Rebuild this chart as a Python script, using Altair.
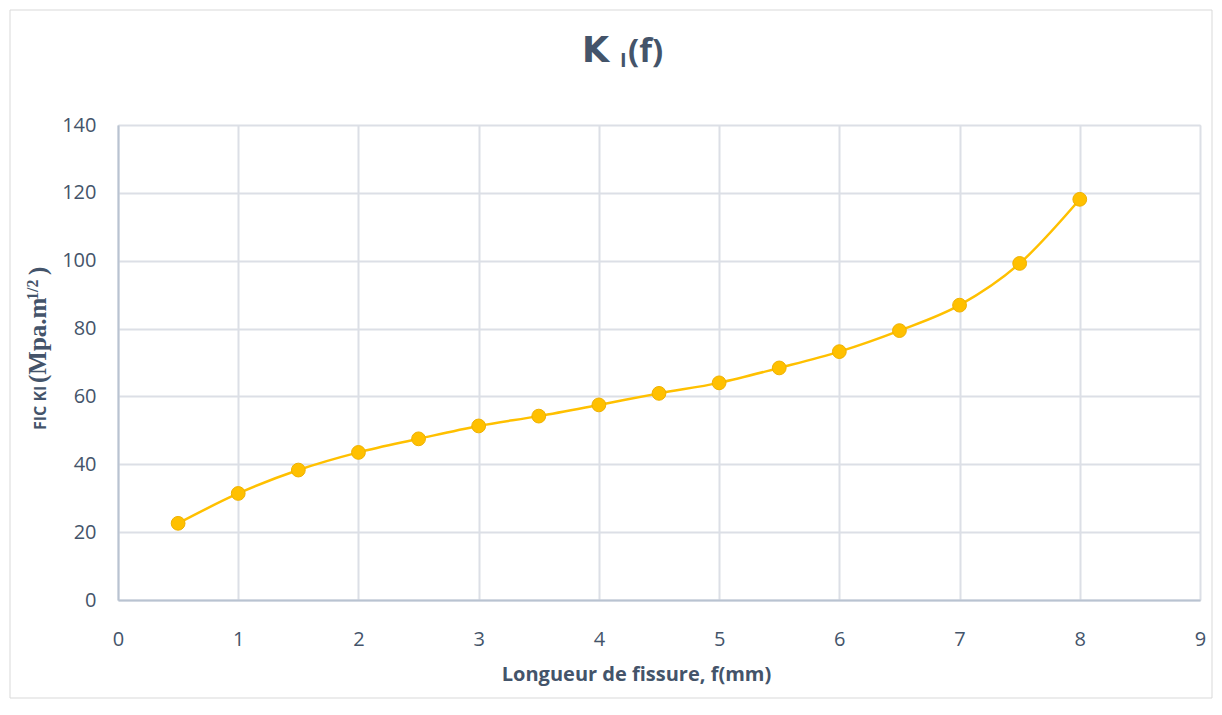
import altair as alt
import pandas as pd

# Data
longueur = [0.5, 1, 1.5, 2, 2.5, 3, 3.5, 4, 4.5, 5, 5.5, 6, 6.5, 7, 7.5, 8]
fic_ki = [22.6, 31.4, 38.3, 43.5, 47.5, 51.3, 54.2, 57.5, 60.9, 64.0, 68.4, 73.2, 79.4, 86.9, 99.2, 118.1]
x_ticks = list(range(0, 10))
y_ticks = list(range(0, 141, 20))

df = pd.DataFrame({"f": longueur, "K": fic_ki})

TXT = "#44546A"
FONT = "Open Sans"
SERIF = "Liberation Serif"
W, H = 1082, 475

x_enc = alt.X(
    "f:Q",
    scale=alt.Scale(domain=[0, 9], nice=False, zero=True),
    axis=alt.Axis(
        values=x_ticks,
        title="Longueur de fissure, f(mm)",
        titleFont=FONT,
        titleFontSize=20,
        titleFontWeight="bold",
        titleColor=TXT,
        titleX=518,
        titleAlign="center",
        titleAnchor="start",
        titleY=74,
        titleBaseline="middle",
        labelFont=FONT,
        labelFontSize=20,
        labelColor=TXT,
        labelPadding=29,
        labelFlush=False,
        tickSize=0,
        domainColor="#B9C3D1",
        domainWidth=2,
        gridColor="#DCDFE6",
        gridWidth=2,
        format="d",
    ),
)
y_enc = alt.Y(
    "K:Q",
    scale=alt.Scale(domain=[0, 140], nice=False),
    axis=alt.Axis(
        values=y_ticks,
        title=None,
        labelFont=FONT,
        labelFontSize=20,
        labelColor=TXT,
        labelPadding=22,
        labelFlush=False,
        tickSize=0,
        domainColor="#B9C3D1",
        domainWidth=2,
        gridColor="#DCDFE6",
        gridWidth=2,
        format="d",
    ),
)

line = alt.Chart(df).mark_line(
    color="#FFC000", strokeWidth=2.5, interpolate="monotone"
).encode(x=x_enc, y=y_enc)

points = alt.Chart(df).mark_point(
    filled=True, fill="#FFC000", stroke="#EFB100", strokeWidth=1,
    size=190, opacity=1, shape="circle"
).encode(x="f:Q", y="K:Q")

anchor = pd.DataFrame({"a": [0]})

def txt(text, x, y, size, weight="bold", font=FONT, angle=0, baseline="alphabetic"):
    return alt.Chart(anchor).mark_text(
        text=text, font=font, fontSize=size, fontWeight=weight, color=TXT,
        align="left", baseline=baseline, angle=angle,
    ).encode(x=alt.value(x), y=alt.value(y))

# Title K_I (f)
title_k = txt("K", 464, -63, 35, font="DejaVu Sans")
title_i = txt("I", 502, -58, 20)
title_f = txt("(f)", 510, -63, 33)

# Y-axis title: FIC KI (Mpa.m^1/2)
yt1 = txt("FIC KI", -72, 305, 16, angle=270)
yt2 = txt("(Mpa.m", -72, 258, 25, font=SERIF, angle=270)
yt3 = txt("1/2", -80, 175, 16, font=SERIF, angle=270)
yt4 = txt(")", -72, 150, 25, font=SERIF, angle=270)

frame = alt.Chart(anchor).mark_rect(
    fill=None, stroke="#D9D9D9", strokeWidth=1
).encode(
    x=alt.value(-108), x2=alt.value(W + 12),
    y=alt.value(-115), y2=alt.value(H + 98),
)

chart = alt.layer(
    frame, line, points, title_k, title_i, title_f, yt1, yt2, yt3, yt4
).properties(
    width=W,
    height=H,
    autosize=alt.AutoSizeParams(type="none"),
    padding={"left": 110, "top": 117, "right": 14, "bottom": 102},
).configure_view(
    stroke="#C8CFDA", strokeWidth=1.5
).configure(background="white")

chart.save("out.html", embed_options={"renderer": "svg", "actions": False})
